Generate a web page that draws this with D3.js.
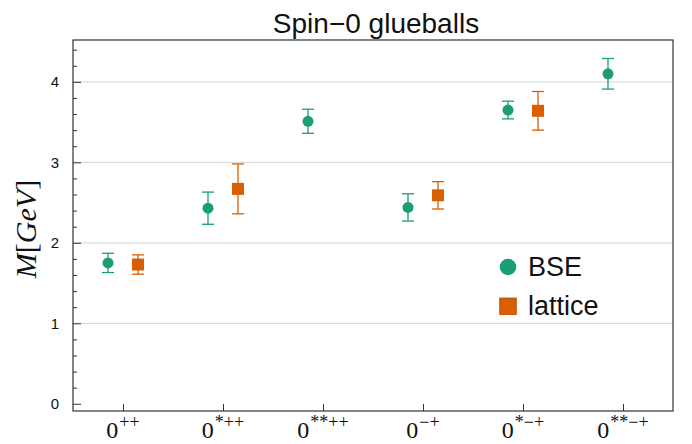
<!DOCTYPE html>
<html>
<head>
<meta charset="utf-8">
<script src="https://cdn.jsdelivr.net/npm/d3@7"></script>
<style>
  body { margin: 0; background: #fff; }
  svg { display: block; }
</style>
</head>
<body>
<svg id="chart" width="692" height="444"></svg>
<script>
// states (x tick labels are base + superscript)
let stateBase = ["0", "0", "0", "0", "0", "0"]
let stateSup = ["++", "*++", "**++", "\u2212+", "*\u2212+", "**\u2212+"]

// BSE masses and errors in GeV
let bseMass = [1.75, 2.43, 3.51, 2.44, 3.65, 4.10]
let bseErr = [0.12, 0.20, 0.15, 0.17, 0.11, 0.19]

// lattice masses (null = no lattice point)
let latticeMass = [1.73, 2.67, null, 2.59, 3.64, null]
let latticeErr = [0.12, 0.31, null, 0.17, 0.24, null]

let yTicks = [0, 1, 2, 3, 4]

let BSE_COLOR = "#1b9e77"
let LAT_COLOR = "#d95f02"

let margin = { top: 40, right: 19, bottom: 33, left: 73 },
    width = 692 - margin.left - margin.right,
    height = 444 - margin.top - margin.bottom

let svg = d3.select("#chart")
let g = svg.append("g").attr("transform", `translate(${margin.left}, ${margin.top})`)

let x = d3.scaleLinear().domain([-0.5, stateSup.length - 0.5]).range([0, width])
let y = d3.scaleLinear().domain([-0.09, 4.52]).range([height, 0])

// grid lines
g.selectAll(".grid")
    .data(yTicks.filter(d => d > 0))
    .enter().append("line")
    .attr("x1", 0).attr("x2", width)
    .attr("y1", d => y(d)).attr("y2", d => y(d))
    .attr("stroke", "#dcdcdc").attr("stroke-width", 1.2)

// y axis, ticks pointing inward
let yAxis = g.append("g")
    .call(d3.axisLeft(y).tickValues(yTicks).tickSize(-8).tickPadding(14).tickFormat(d3.format("d")))
yAxis.select(".domain").remove()
yAxis.selectAll("line").attr("stroke", "#333")
yAxis.selectAll("text").style("font-family", "Liberation Sans, Arial, sans-serif")
    .style("font-size", "15px").style("fill", "#111")

// minor y ticks
let minor = d3.range(0, 4.5, 0.2).filter(d => Math.abs(d - Math.round(d)) > 1e-6)
g.append("g")
    .call(d3.axisLeft(y).tickValues(minor).tickSize(-4).tickFormat(""))
    .call(a => a.select(".domain").remove())
    .selectAll("line").attr("stroke", "#333")

// x axis ticks inward
let xAxis = g.append("g")
    .attr("transform", "translate(0," + height + ")")
    .call(d3.axisBottom(x).tickValues(d3.range(stateSup.length)).tickSize(-7).tickFormat(""))
xAxis.select(".domain").remove()
xAxis.selectAll("line").attr("stroke", "#333")

// x tick labels with superscripts
let xl = g.selectAll(".xlab")
    .data(stateSup)
    .enter().append("text")
    .attr("x", (d, i) => x(i))
    .attr("y", height + 27)
    .attr("text-anchor", "middle")
    .style("font-family", "Liberation Serif, Times New Roman, serif")
    .style("fill", "#111")
xl.append("tspan").style("font-size", "24px").text((d, i) => stateBase[i])
xl.append("tspan").style("font-size", "18px").attr("dx", 1).attr("dy", -10).text(d => d)

// frame
g.append("rect")
    .attr("x", 0).attr("y", 0).attr("width", width).attr("height", height)
    .attr("fill", "none").attr("stroke", "#333").attr("stroke-width", 1.2)

// error bars
function errorBars(mass, err, offset, color, cls) {
    let pts = mass.map((m, i) => ({ i: i, m: m, e: err[i] })).filter(d => d.m != null)
    let eb = g.selectAll("." + cls).data(pts).enter().append("g").attr("class", cls)
    eb.append("line")
        .attr("x1", d => x(d.i + offset)).attr("x2", d => x(d.i + offset))
        .attr("y1", d => y(d.m - d.e)).attr("y2", d => y(d.m + d.e))
        .attr("stroke", color).attr("stroke-width", 1.3)
    ;[-1, 1].forEach(function (s) {
        eb.append("line")
            .attr("x1", d => x(d.i + offset) - 6).attr("x2", d => x(d.i + offset) + 6)
            .attr("y1", d => y(d.m + s * d.e)).attr("y2", d => y(d.m + s * d.e))
            .attr("stroke", color).attr("stroke-width", 1.3)
    })
    return pts
}

let bsePts = errorBars(bseMass, bseErr, -0.15, BSE_COLOR, "ebse")
let latPts = errorBars(latticeMass, latticeErr, 0.15, LAT_COLOR, "elat")

g.selectAll(".bse").data(bsePts).enter().append("circle")
    .attr("cx", d => x(d.i - 0.15)).attr("cy", d => y(d.m)).attr("r", 5.5)
    .attr("fill", BSE_COLOR)

g.selectAll(".lat").data(latPts).enter().append("rect")
    .attr("x", d => x(d.i + 0.15) - 6).attr("y", d => y(d.m) - 6)
    .attr("width", 12).attr("height", 12)
    .attr("fill", LAT_COLOR)

// legend
let legend = svg.append("g").attr("transform", "translate(508, 267)")
legend.append("circle").attr("cx", 0).attr("cy", 0).attr("r", 8.3).attr("fill", BSE_COLOR)
legend.append("rect").attr("x", -8.3).attr("y", 31).attr("width", 16.6).attr("height", 16.6)
    .attr("fill", LAT_COLOR).attr("stroke", "#b84f00").attr("stroke-width", 0.8)
legend.selectAll(".lt").data(["BSE", "lattice"]).enter().append("text")
    .attr("x", 20).attr("y", (d, i) => 9 + i * 39)
    .style("font-family", "Liberation Sans, Arial, sans-serif")
    .style("font-size", "27px").style("fill", "#111")
    .text(d => d)

// title
svg.append("text")
    .attr("x", margin.left + width / 2 + 3).attr("y", 33)
    .attr("text-anchor", "middle")
    .style("font-family", "Liberation Sans, Arial, sans-serif")
    .style("font-size", "28px").style("fill", "#111")
    .text("Spin\u22120 glueballs")

// y label
let yl = svg.append("text")
    .attr("transform", "translate(36, 229) rotate(-90)")
    .attr("text-anchor", "middle")
    .style("font-family", "Liberation Serif, Times New Roman, serif")
    .style("font-size", "30px").style("fill", "#111")
yl.append("tspan").style("font-style", "italic").text("M")
yl.append("tspan").text("[")
yl.append("tspan").style("font-style", "italic").text("GeV")
yl.append("tspan").text("]")
</script>
</body>
</html>
